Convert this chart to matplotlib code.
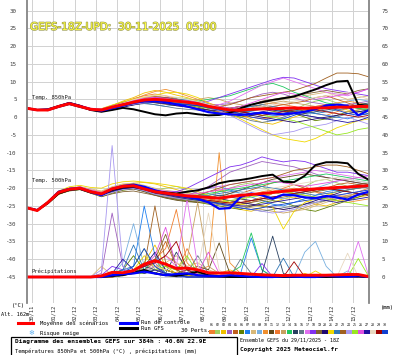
import matplotlib
matplotlib.use("Agg")
import matplotlib.pyplot as plt
import matplotlib.patheffects as pe
from matplotlib.patches import Rectangle
from matplotlib.lines import Line2D
import numpy as np

# time axis: hours after 29/11 18Z, one value every 12 h
hours = np.arange(0, 385, 12)
day_labels = ["30/11", "01/12", "02/12", "03/12", "04/12", "05/12", "06/12", "07/12",
              "08/12", "09/12", "10/12", "11/12", "12/12", "13/12", "14/12", "15/12"]
day_hours = [6 + 24 * k for k in range(len(day_labels))]

# ensemble mean, control run, GFS run
mean_850 = [2.5, 2.0, 2.0, 3.0, 3.8, 3.0, 2.2, 2.0, 2.8, 3.5, 4.2, 4.8, 5.0, 4.8, 4.5, 4.2, 3.8,
            3.0, 2.5, 2.0, 2.0, 2.2, 2.3, 2.3, 2.5, 2.6, 2.5, 2.6, 2.6, 2.8, 2.8, 3.0, 3.0]
mean_500 = [-25.5, -26.3, -24.0, -21.2, -20.3, -20.0, -21.0, -21.6, -20.2, -19.5, -19.3, -20.2,
            -21.0, -21.4, -21.8, -22.2, -22.4, -22.6, -22.8, -22.4, -22.0, -21.8, -21.5, -21.2,
            -20.9, -20.6, -20.4, -20.2, -20.0, -19.8, -19.7, -19.5, -19.3]
mean_pr = [0, 0, 0, 0, 0, 0, 0, 0.3, 1.3, 1.2, 1.8, 3.6, 4.6, 3.6, 2.4, 2.5, 2.0, 1.2, 1.1, 1.2,
           1.0, 0.8, 0.6, 0.5, 0.4, 0.5, 0.5, 0.5, 0.5, 0.6, 0.7, 0.7, 0.1]

ctrl_850 = [2.5, 2.0, 2.1, 3.0, 3.9, 3.1, 2.2, 1.8, 2.5, 3.2, 4.0, 4.5, 4.6, 4.2, 3.6, 3.0, 2.2,
            1.4, 1.0, 0.8, 0.6, 0.9, 1.2, 1.0, 0.8, 1.1, 1.5, 2.2, 3.3, 3.5, 3.2, 0.5, 2.0]
ctrl_500 = [-25.5, -26.2, -24.0, -21.0, -20.2, -20.0, -21.0, -22.0, -20.2, -19.4, -19.0, -19.6,
            -20.6, -21.5, -22.0, -22.5, -23.0, -24.0, -25.8, -25.6, -22.5, -21.5, -22.0, -23.0,
            -21.8, -22.0, -22.6, -22.8, -22.2, -22.6, -23.2, -21.8, -21.0]
ctrl_pr = [0, 0, 0, 0, 0, 0, 0, 0, 0.5, 0.8, 1.0, 1.5, 1.0, 0.5, 0.8, 1.0, 0.5, 0.3, 0.2, 0.5,
           0.3, 0.1, 0, 0, 0.2, 0.1, 0, 0, 0.3, 0.2, 0.1, 0.4, 0]

gfs_850 = [2.5, 2.0, 2.2, 3.1, 4.0, 3.2, 2.0, 1.5, 2.0, 2.6, 2.2, 1.5, 0.8, 0.5, 1.0, 1.2, 0.8,
           0.5, 0.6, 1.2, 2.5, 3.5, 4.2, 4.8, 5.3, 5.8, 6.8, 7.8, 9.0, 10.0, 10.2, 3.5, 3.2]
gfs_500 = [-25.5, -26.2, -24.2, -21.5, -20.5, -20.2, -21.2, -21.8, -20.5, -19.8, -19.5, -20.0,
           -20.8, -21.2, -21.5, -21.0, -20.6, -19.8, -18.6, -18.0, -17.7, -17.2, -16.6, -16.2,
           -18.2, -18.3, -16.5, -13.5, -12.7, -12.7, -13.0, -16.0, -17.7]
gfs_pr = [0, 0, 0, 0, 0, 0, 0, 0, 0.3, 0.5, 1.2, 2.0, 1.0, 0.5, 0.3, 0.8, 1.5, 0.5, 0.2, 0, 0,
          0, 0.1, 0.2, 0, 0, 0, 0, 0, 0.1, 0.3, 0.2, 0]

# 30 perturbed members
member_colors = ["#f08030", "#a0d060", "#f0c000", "#a060c0", "#c06020", "#608000", "#2080f0",
                 "#d8b878", "#78b0e0", "#f09030", "#604818", "#f07830", "#c8a060", "#20c860",
                 "#284060", "#607888", "#e070f0", "#8030f0", "#806030", "#200870", "#f0d800",
                 "#3078b8", "#a06020", "#a898f0", "#98e820", "#e050e0", "#2010a0", "#e8d8c0",
                 "#a00000", "#1040d0"]

t850_members = [
    [2.6, 2.1, 2.2, 3.2, 4.0, 3.1, 2.0, 1.8, 3.0, 4.0, 5.2, 6.0, 6.5, 6.0, 5.2, 4.0, 3.0, 2.5, 2.0, 1.5, 1.8, 2.5, 3.5, 4.0, 3.5, 3.0, 2.0, 1.0, 0.5, 1.5, 2.5, 3.0, 3.5],
    [2.4, 2.0, 1.9, 2.8, 3.6, 3.0, 2.4, 2.2, 2.6, 3.0, 3.6, 4.2, 4.5, 5.0, 5.5, 5.2, 4.5, 3.8, 3.0, 2.2, 1.5, 1.0, 0.5, 0.2, 1.0, 2.0, 3.5, 4.5, 5.0, 4.0, 3.0, 2.5, 2.0],
    [2.5, 2.0, 2.1, 3.0, 3.7, 2.8, 2.0, 2.2, 3.2, 4.5, 5.5, 6.8, 7.5, 7.0, 6.2, 5.5, 4.5, 3.5, 2.5, 1.5, 0.5, -0.5, -1.5, -2.0, -1.0, 0.0, 1.0, 2.0, 2.5, 3.0, 2.0, 1.5, 1.0],
    [2.5, 2.1, 2.0, 3.1, 3.9, 3.2, 2.3, 1.9, 2.4, 3.0, 3.8, 4.5, 5.0, 5.5, 5.0, 4.5, 4.0, 3.5, 3.5, 3.8, 4.5, 5.5, 6.5, 7.0, 6.5, 5.5, 4.5, 4.0, 3.5, 3.0, 3.5, 4.0, 4.5],
    [2.6, 2.0, 2.0, 2.9, 3.8, 3.0, 2.1, 2.0, 3.0, 3.8, 4.5, 5.0, 4.8, 4.2, 3.5, 3.0, 2.5, 2.0, 1.5, 1.0, 1.5, 2.0, 2.5, 3.0, 3.5, 4.0, 4.5, 5.5, 6.0, 5.0, 4.0, 3.0, 2.5],
    [2.5, 1.9, 2.0, 3.0, 3.8, 3.0, 2.2, 2.0, 2.5, 3.0, 3.5, 4.0, 4.5, 4.8, 4.2, 3.5, 2.8, 2.0, 1.2, 0.5, 0.0, 0.5, 1.0, 1.5, 2.0, 1.0, 0.0, -1.0, -0.5, 0.5, 1.5, 2.0, 2.5],
    [2.5, 2.0, 2.0, 3.0, 3.9, 3.1, 2.3, 2.1, 2.8, 3.2, 3.8, 4.0, 3.5, 3.0, 3.5, 4.0, 4.2, 3.8, 3.0, 2.5, 2.0, 1.5, 1.0, 0.5, 0.5, 1.0, 1.5, 1.0, 0.5, 0.0, -0.5, 0.5, 1.0],
    [2.4, 2.0, 2.0, 3.0, 3.8, 3.0, 2.2, 2.0, 3.0, 3.8, 4.8, 5.5, 6.0, 5.5, 5.0, 4.5, 4.0, 3.5, 3.0, 2.5, 3.0, 3.5, 4.0, 4.5, 5.0, 5.5, 6.0, 6.5, 7.0, 6.0, 5.0, 5.5, 6.0],
    [2.5, 2.0, 2.0, 3.0, 3.8, 2.9, 2.1, 1.8, 2.5, 3.2, 4.0, 4.5, 4.8, 4.5, 4.0, 3.8, 3.5, 3.0, 2.5, 2.0, 2.5, 3.0, 2.5, 2.0, 1.5, 1.0, 0.5, 1.5, 2.5, 3.5, 4.5, 5.0, 4.5],
    [2.5, 2.1, 2.1, 3.1, 3.8, 3.0, 2.2, 2.3, 3.2, 4.0, 5.0, 6.2, 7.2, 7.8, 7.0, 6.0, 5.0, 4.0, 3.0, 2.0, 1.5, 2.0, 2.5, 3.0, 2.5, 2.0, 2.5, 3.0, 3.5, 4.0, 4.5, 4.0, 3.5],
    [2.5, 2.0, 2.0, 3.0, 3.7, 3.0, 2.3, 2.1, 2.7, 3.3, 4.0, 4.6, 5.2, 5.0, 4.6, 4.2, 3.5, 2.5, 2.0, 2.5, 3.0, 3.5, 3.0, 2.5, 2.0, 1.5, 2.0, 2.5, 3.0, 3.5, 3.0, 2.5, 3.0],
    [2.6, 2.0, 2.0, 3.0, 3.8, 3.1, 2.2, 2.0, 2.9, 3.6, 4.4, 5.0, 5.5, 5.2, 4.8, 4.5, 4.0, 3.0, 2.0, 1.0, 0.5, 0.0, -0.5, 0.0, 0.5, 1.5, 2.5, 3.0, 3.5, 3.0, 2.5, 3.0, 3.5],
    [2.5, 2.0, 2.0, 3.0, 3.9, 3.1, 2.3, 2.2, 3.0, 3.6, 4.1, 4.5, 4.6, 4.3, 4.0, 4.5, 5.0, 5.5, 5.0, 4.0, 3.5, 3.0, 3.5, 4.0, 4.5, 4.0, 3.5, 3.0, 2.5, 2.0, 1.5, 2.0, 2.5],
    [2.5, 2.0, 2.1, 3.1, 3.9, 3.0, 2.1, 1.9, 2.4, 3.0, 3.8, 4.3, 4.6, 4.4, 4.2, 4.0, 4.5, 5.0, 5.5, 6.0, 7.0, 8.0, 9.0, 9.5, 8.5, 7.0, 6.0, 5.0, 4.0, 3.5, 3.0, 2.5, 2.0],
    [2.5, 2.0, 2.0, 3.0, 3.9, 3.0, 2.2, 2.0, 2.7, 3.4, 4.1, 4.6, 4.8, 4.6, 4.3, 4.0, 3.5, 2.8, 2.2, 1.8, 1.5, 1.8, 2.2, 2.5, 2.0, 1.5, 1.0, 1.5, 2.0, 2.5, 3.0, 3.5, 4.0],
    [2.5, 2.0, 2.0, 3.0, 3.8, 3.0, 2.2, 1.9, 2.5, 3.0, 3.5, 3.8, 3.5, 3.0, 2.5, 2.2, 2.0, 1.5, 1.0, 0.5, 0.0, -1.0, -1.5, -1.0, 0.0, 1.0, 0.5, 0.0, -0.5, 0.0, 1.0, 1.5, 2.0],
    [2.5, 2.0, 2.0, 3.0, 3.8, 3.0, 2.2, 2.1, 3.0, 3.8, 4.5, 5.0, 5.5, 5.0, 4.5, 4.0, 3.5, 3.0, 3.5, 4.5, 6.0, 7.5, 9.0, 10.0, 11.0, 10.0, 9.0, 8.0, 7.0, 6.5, 6.0, 7.0, 8.0],
    [2.4, 2.1, 2.0, 3.2, 4.1, 3.3, 2.4, 1.8, 2.2, 2.8, 3.6, 4.4, 5.4, 5.6, 5.0, 4.4, 4.0, 4.5, 5.5, 6.5, 7.5, 8.5, 9.5, 10.5, 11.2, 11.0, 10.0, 9.0, 8.0, 7.5, 7.0, 6.5, 6.0],
    [2.6, 2.0, 2.1, 2.9, 3.6, 2.8, 2.0, 2.3, 3.3, 4.2, 4.6, 4.4, 4.0, 3.6, 3.2, 3.0, 3.3, 3.5, 3.0, 2.5, 3.0, 3.5, 4.5, 5.0, 5.5, 6.0, 6.5, 7.0, 7.5, 7.0, 6.5, 7.5, 8.0],
    [2.5, 2.0, 1.8, 2.7, 3.5, 2.7, 1.9, 1.6, 2.2, 2.8, 3.4, 4.0, 4.2, 3.8, 3.2, 2.8, 2.4, 2.0, 1.8, 1.5, 1.0, 0.5, 0.0, -0.5, -1.0, -1.5, -1.0, -0.5, 0.0, 0.5, 1.0, 1.5, 2.0],
    [2.5, 1.9, 2.0, 3.1, 3.9, 3.1, 2.3, 2.4, 3.4, 4.3, 5.0, 5.6, 6.2, 6.8, 7.0, 6.5, 5.5, 4.0, 2.5, 1.0, -0.5, -2.0, -3.5, -5.0, -6.0, -6.5, -7.0, -6.0, -4.5, -3.0, -2.0, -1.0, -0.5],
    [2.4, 2.0, 2.1, 3.0, 3.7, 3.1, 2.4, 2.2, 2.9, 3.4, 3.9, 4.3, 4.6, 4.9, 5.1, 4.8, 4.0, 3.0, 2.5, 2.0, 2.5, 3.0, 3.5, 3.0, 2.5, 2.0, 1.5, 1.0, 1.5, 2.0, 2.5, 3.0, 3.5],
    [2.5, 2.1, 2.0, 3.0, 3.8, 3.0, 2.1, 1.9, 2.6, 3.3, 4.4, 5.2, 5.8, 5.5, 5.0, 4.5, 4.0, 3.5, 3.0, 3.5, 4.5, 5.5, 6.0, 6.5, 7.0, 7.5, 8.5, 9.5, 11.0, 12.4, 12.4, 12.2, 11.3],
    [2.5, 2.0, 2.0, 2.9, 3.7, 3.0, 2.3, 2.1, 2.7, 3.1, 3.6, 4.0, 4.3, 4.4, 4.2, 3.9, 3.4, 2.6, 1.8, 0.5, -1.0, -2.5, -4.0, -5.0, -4.5, -4.0, -3.0, -2.5, -2.0, -1.0, 0.0, -1.0, -2.0],
    [2.6, 2.1, 2.0, 3.1, 3.8, 2.9, 2.0, 1.7, 2.3, 3.0, 3.8, 4.5, 4.9, 4.6, 4.0, 3.5, 3.0, 2.5, 2.5, 2.0, 1.5, 1.0, 0.5, 0.0, -0.5, -1.0, -2.0, -3.0, -4.0, -5.0, -4.5, -3.5, -3.0],
    [2.5, 2.0, 2.0, 3.0, 3.9, 3.2, 2.5, 2.3, 3.1, 3.9, 4.7, 5.3, 5.6, 5.2, 4.8, 4.6, 4.2, 3.5, 3.0, 2.5, 3.0, 4.0, 5.0, 6.0, 7.0, 6.5, 5.5, 5.0, 5.5, 6.0, 6.5, 7.0, 8.0],
    [2.4, 2.0, 2.0, 2.9, 3.8, 3.1, 2.2, 1.9, 2.6, 3.4, 4.1, 4.3, 4.1, 3.8, 3.6, 3.5, 3.2, 2.8, 2.5, 2.0, 1.5, 1.0, 1.5, 2.0, 1.5, 1.0, 0.5, 0.0, -0.5, -1.0, -1.5, -1.0, 0.0],
    [2.5, 2.0, 2.1, 3.1, 3.9, 3.0, 2.1, 2.0, 3.0, 3.9, 4.9, 5.7, 6.2, 6.0, 5.6, 5.0, 4.4, 3.6, 2.8, 2.2, 2.0, 2.5, 3.0, 3.5, 4.0, 4.5, 5.0, 5.5, 6.0, 6.5, 7.0, 6.0, 5.0],
    [2.5, 2.0, 2.0, 3.0, 3.7, 2.9, 2.2, 2.1, 2.9, 3.7, 4.3, 4.6, 4.7, 4.5, 4.3, 4.0, 3.6, 3.0, 2.5, 2.0, 1.5, 1.0, 0.5, 1.0, 1.5, 2.0, 2.5, 2.0, 1.5, 1.0, 0.5, 0.0, 0.5],
    [2.5, 2.0, 1.9, 2.9, 3.7, 3.0, 2.3, 2.0, 2.6, 3.2, 3.9, 4.4, 4.5, 4.2, 3.9, 3.6, 3.2, 2.6, 2.0, 1.5, 1.0, 0.0, -0.5, -1.0, -0.5, 0.5, 1.5, 2.5, 3.0, 2.0, 1.0, 0.5, 1.0],
]

t500_members = [
    [-25.4, -26.2, -24.2, -21.5, -20.2, -19.6, -20.5, -21.0, -19.8, -19.0, -18.8, -19.5, -20.5, -21.5, -22.5, -23.0, -22.0, -21.0, -20.5, -21.5, -23.0, -24.0, -23.0, -21.5, -20.0, -19.0, -19.5, -21.0, -22.5, -23.5, -22.5, -21.0, -20.0],
    [-25.5, -26.3, -23.8, -21.0, -20.5, -20.3, -21.3, -22.0, -20.8, -20.0, -19.6, -20.0, -20.5, -20.0, -19.5, -20.5, -21.5, -22.0, -21.0, -20.0, -19.0, -18.5, -19.5, -21.0, -22.0, -21.0, -19.5, -18.0, -17.5, -18.5, -19.5, -20.0, -19.0],
    [-25.6, -26.4, -24.3, -21.8, -20.6, -20.0, -20.8, -21.3, -20.0, -19.2, -18.6, -18.4, -18.8, -19.6, -20.4, -21.2, -22.0, -23.0, -24.0, -25.0, -26.0, -26.5, -25.5, -24.0, -23.0, -22.5, -23.5, -24.5, -25.0, -24.0, -23.0, -22.5, -22.0],
    [-25.5, -26.2, -24.0, -21.0, -20.0, -19.8, -20.6, -21.4, -20.4, -19.6, -19.4, -20.0, -21.0, -21.8, -22.4, -22.0, -21.0, -19.5, -17.5, -15.5, -14.5, -13.5, -12.5, -13.0, -13.5, -14.0, -15.0, -16.0, -17.0, -17.5, -18.0, -18.5, -19.0],
    [-25.4, -26.1, -24.1, -21.4, -20.4, -20.2, -21.2, -22.2, -21.0, -20.0, -19.8, -20.6, -21.6, -22.2, -22.8, -23.2, -23.5, -24.0, -23.5, -22.5, -21.5, -20.5, -19.5, -18.5, -18.0, -19.0, -20.0, -21.0, -20.0, -19.0, -18.5, -19.0, -19.5],
    [-25.5, -26.3, -24.2, -21.6, -20.8, -20.4, -21.4, -22.4, -21.4, -20.6, -20.2, -20.8, -21.8, -22.6, -23.2, -23.6, -24.0, -24.5, -25.0, -25.5, -26.0, -25.0, -24.0, -23.5, -24.0, -25.0, -26.0, -26.5, -25.5, -24.5, -23.5, -22.5, -21.5],
    [-25.5, -26.2, -23.9, -21.0, -20.1, -19.8, -20.8, -21.8, -20.6, -19.8, -19.6, -20.4, -21.4, -21.8, -21.5, -21.0, -20.5, -20.0, -19.5, -20.5, -21.5, -22.5, -23.5, -24.5, -25.0, -24.0, -23.0, -22.0, -21.0, -20.5, -20.0, -19.5, -20.0],
    [-25.6, -26.4, -24.4, -21.4, -20.2, -19.6, -20.2, -20.8, -19.6, -18.8, -18.6, -19.2, -20.0, -20.6, -21.0, -21.5, -22.0, -22.5, -23.0, -23.5, -24.0, -24.5, -25.0, -25.5, -26.0, -26.5, -26.0, -25.0, -24.0, -23.0, -22.0, -21.5, -21.0],
    [-25.5, -26.3, -24.0, -21.2, -20.4, -20.0, -21.0, -21.8, -20.6, -19.6, -19.0, -19.6, -20.6, -21.4, -22.0, -22.6, -23.0, -22.5, -22.0, -21.5, -21.0, -21.5, -22.0, -22.5, -23.0, -22.0, -21.0, -20.0, -19.0, -18.0, -17.5, -18.0, -18.5],
    [-25.4, -26.2, -24.1, -21.3, -20.3, -20.1, -21.1, -21.9, -20.7, -19.9, -19.7, -20.3, -21.3, -21.7, -22.1, -22.5, -23.0, -23.5, -24.0, -24.0, -23.0, -22.0, -21.0, -20.5, -21.0, -21.5, -22.0, -22.5, -23.0, -23.5, -24.0, -23.5, -23.0],
    [-25.5, -26.3, -24.2, -21.5, -20.5, -20.2, -21.2, -22.0, -21.0, -20.4, -20.2, -21.0, -22.0, -22.8, -23.4, -23.8, -24.0, -23.5, -22.5, -21.5, -20.5, -19.5, -18.5, -17.5, -17.0, -16.5, -16.0, -16.5, -17.0, -17.5, -18.0, -18.5, -19.0],
    [-25.5, -26.2, -24.0, -21.1, -20.2, -19.9, -20.9, -21.6, -20.2, -19.3, -19.0, -19.8, -20.8, -21.2, -21.6, -22.0, -22.5, -23.0, -23.5, -24.0, -24.5, -23.5, -22.5, -21.5, -20.5, -20.0, -20.5, -21.0, -21.5, -22.0, -22.5, -22.0, -21.5],
    [-25.6, -26.4, -24.3, -21.6, -20.6, -20.3, -21.3, -22.1, -21.1, -20.3, -19.9, -20.5, -21.5, -22.0, -22.4, -22.8, -23.2, -23.6, -24.0, -24.5, -25.0, -25.5, -26.0, -26.5, -27.0, -26.5, -25.5, -24.5, -23.5, -22.5, -22.0, -21.5, -21.0],
    [-25.5, -26.3, -24.1, -21.3, -20.4, -20.1, -21.0, -21.7, -20.5, -19.7, -19.5, -20.3, -21.2, -21.6, -22.0, -22.2, -22.0, -21.5, -21.0, -20.5, -20.0, -19.5, -19.0, -18.5, -18.0, -17.5, -17.0, -16.5, -16.0, -16.5, -17.0, -17.5, -18.0],
    [-25.4, -26.1, -23.8, -20.9, -20.0, -19.7, -20.7, -21.5, -20.3, -19.5, -19.3, -20.1, -21.0, -21.6, -22.2, -22.6, -23.0, -22.5, -22.0, -22.5, -23.0, -23.5, -23.0, -22.5, -22.0, -21.5, -21.0, -20.5, -20.0, -20.5, -21.0, -21.5, -22.0],
    [-25.5, -26.2, -24.0, -21.2, -20.3, -20.0, -21.0, -21.8, -20.8, -20.2, -20.0, -20.8, -21.8, -22.4, -22.8, -23.2, -23.5, -24.0, -24.5, -25.0, -25.5, -26.0, -26.5, -26.0, -25.5, -25.0, -24.5, -24.0, -23.5, -23.0, -22.5, -22.0, -21.5],
    [-25.5, -26.3, -24.0, -21.0, -20.0, -19.6, -20.5, -21.2, -20.0, -19.2, -19.0, -19.6, -20.4, -20.8, -21.0, -21.0, -20.5, -20.0, -19.5, -19.0, -18.5, -18.0, -17.5, -17.0, -16.5, -16.0, -15.5, -15.0, -15.5, -16.0, -16.5, -17.0, -17.5],
    [-25.5, -26.2, -24.1, -21.3, -20.3, -19.9, -20.8, -21.5, -20.3, -19.5, -19.2, -19.8, -20.8, -21.2, -21.0, -20.0, -18.5, -17.0, -15.5, -14.0, -13.5, -12.5, -11.2, -12.0, -12.6, -12.2, -12.5, -13.5, -14.5, -15.5, -15.5, -16.0, -16.5],
    [-25.6, -26.4, -24.4, -21.7, -20.7, -20.4, -21.4, -22.4, -21.6, -21.0, -20.8, -21.4, -22.0, -22.6, -23.0, -23.4, -23.8, -24.2, -24.6, -25.0, -24.5, -24.0, -23.5, -23.0, -22.5, -22.0, -21.5, -21.0, -20.5, -20.0, -19.5, -19.0, -18.5],
    [-25.5, -26.2, -24.0, -21.2, -20.4, -20.1, -21.1, -21.9, -20.9, -20.1, -19.9, -20.5, -21.4, -21.8, -22.2, -22.4, -22.6, -22.8, -23.0, -23.5, -24.0, -24.5, -25.0, -25.5, -26.0, -25.5, -24.5, -23.5, -22.5, -21.5, -20.5, -20.0, -19.5],
    [-25.4, -26.1, -23.7, -20.8, -19.6, -19.2, -19.8, -20.0, -18.8, -18.2, -18.0, -18.3, -18.6, -19.0, -19.5, -20.0, -21.0, -22.0, -23.0, -24.0, -24.5, -25.0, -25.0, -25.3, -31.5, -26.5, -24.0, -23.0, -22.0, -21.0, -20.5, -20.0, -19.5],
    [-25.5, -26.3, -24.1, -21.4, -20.5, -20.2, -21.2, -22.0, -20.8, -19.8, -19.4, -19.9, -20.8, -21.2, -21.6, -22.0, -22.2, -22.0, -21.5, -21.0, -20.5, -20.0, -19.5, -20.0, -20.5, -21.0, -21.5, -22.0, -21.5, -21.0, -20.5, -20.0, -19.5],
    [-25.5, -26.2, -24.0, -21.1, -20.2, -19.8, -20.8, -21.5, -20.3, -19.4, -19.2, -19.9, -20.9, -21.5, -22.0, -22.4, -22.0, -21.0, -20.0, -19.0, -18.5, -18.0, -17.5, -17.0, -16.0, -15.0, -14.5, -14.0, -13.5, -13.5, -14.0, -15.0, -16.0],
    [-25.5, -26.3, -24.2, -21.5, -20.6, -20.3, -21.3, -22.2, -21.2, -20.4, -20.1, -20.7, -21.7, -22.3, -22.8, -23.2, -23.6, -24.0, -24.5, -25.0, -25.5, -26.0, -26.5, -27.0, -26.5, -26.0, -25.0, -24.0, -23.0, -22.0, -21.5, -21.0, -20.5],
    [-25.4, -26.1, -23.9, -21.0, -20.1, -19.8, -20.8, -21.6, -20.4, -19.6, -19.4, -20.2, -21.2, -21.8, -22.4, -23.0, -23.5, -24.0, -24.0, -23.5, -23.0, -22.5, -22.0, -21.5, -21.0, -21.5, -22.0, -22.5, -23.0, -23.5, -24.0, -24.5, -25.0],
    [-25.5, -26.2, -24.1, -21.2, -20.3, -20.0, -20.9, -21.6, -20.3, -19.4, -19.1, -19.7, -20.6, -21.0, -21.4, -21.8, -21.5, -21.0, -20.5, -20.0, -19.5, -19.0, -18.5, -18.0, -18.5, -19.0, -19.5, -19.0, -18.5, -18.0, -17.5, -17.0, -16.5],
    [-25.6, -26.3, -24.2, -21.4, -20.5, -20.2, -21.2, -21.9, -20.9, -20.1, -19.8, -20.4, -21.3, -21.9, -22.5, -23.0, -23.4, -23.8, -24.2, -24.6, -25.0, -25.0, -24.5, -24.0, -23.5, -23.0, -22.5, -23.0, -23.5, -24.0, -23.5, -23.0, -22.5],
    [-25.5, -26.2, -24.0, -21.2, -20.3, -20.0, -21.0, -21.7, -20.5, -19.7, -19.4, -20.0, -21.0, -21.4, -21.8, -22.2, -22.6, -23.0, -22.5, -22.0, -21.5, -21.0, -20.5, -20.0, -19.5, -19.0, -18.5, -18.0, -17.5, -17.0, -17.5, -18.0, -18.5],
    [-25.5, -26.3, -24.1, -21.3, -20.4, -20.1, -21.1, -21.8, -20.6, -19.8, -19.5, -20.1, -21.1, -21.7, -22.2, -22.6, -23.0, -23.4, -23.8, -24.2, -24.0, -23.5, -23.0, -22.5, -22.0, -21.5, -21.0, -20.5, -20.0, -20.5, -21.0, -21.5, -22.0],
    [-25.4, -26.2, -24.0, -21.1, -20.2, -19.9, -20.9, -21.7, -20.5, -19.6, -19.3, -19.9, -20.9, -21.5, -22.1, -22.6, -23.2, -23.8, -24.4, -25.0, -25.6, -26.0, -25.5, -25.0, -24.5, -24.0, -23.5, -23.0, -22.5, -22.0, -21.5, -21.0, -20.5],
]

pr_members = [
    [0, 0, 0, 0, 0, 0, 0, 0, 0.5, 1, 2, 3, 5, 8, 19, 4, 1, 0.5, 0, 0, 0.5, 1, 0, 0, 0, 0, 0.5, 0, 0, 0, 0, 0, 0],
    [0, 0, 0, 0, 0, 0, 0, 0.5, 1, 2, 3, 8, 2, 1, 0.5, 1, 2, 1, 0, 0, 0, 0.5, 1, 0, 0, 0, 0, 0, 0, 0.5, 0, 0, 0],
    [0, 0, 0, 0, 0, 0, 0, 0, 0, 1, 2, 4, 9, 3, 1, 0.5, 0, 0, 1, 2, 1, 0, 0, 0, 0, 0, 1, 0, 0, 0, 0, 0, 0],
    [0, 0, 0, 0, 0, 0, 0, 1, 18, 3, 1, 2, 4, 1, 0, 0, 0, 0.5, 1, 0, 0, 0, 0, 0, 0, 0, 0, 0, 0, 0, 0, 0, 0],
    [0, 0, 0, 0, 0, 0, 0, 0, 0.5, 1, 2, 3, 4, 10, 3, 1, 0.5, 0, 0, 0, 0, 0, 0.5, 0, 0, 0, 0, 0, 0, 0, 0, 0, 0],
    [0, 0, 0, 0, 0, 0, 0, 0, 1, 2, 6, 2, 1, 3, 2, 0.5, 0, 0, 0, 0, 0, 0, 0, 0, 0, 0, 0, 0, 0, 0, 0, 0, 0],
    [0, 0, 0, 0, 0, 0, 0, 0, 0.5, 2, 3, 20, 6, 2, 1, 0, 0, 0, 0, 0, 1, 11, 2, 0, 0, 0, 0, 0, 0, 0, 0, 0, 0],
    [0, 0, 0, 0, 0, 0, 0, 3, 0.5, 1, 2, 3, 2, 4, 6, 3, 4, 2, 1, 0, 0, 0, 0, 0, 0, 0, 0, 0, 0, 0, 0, 0, 0],
    [0, 0, 0, 0, 0, 0, 0, 0, 0.5, 4, 15, 3, 1, 0.5, 0, 0, 0, 0, 0, 0, 0, 0, 0, 0, 0, 0, 7, 10, 3, 0, 1.7, 0, 0],
    [0, 0, 0, 0, 0, 0, 0, 0, 0, 1, 2, 2, 4, 6, 4, 2, 2, 3, 35, 4, 1, 0, 0, 0, 0, 0, 0, 0, 0, 0, 0, 0, 0],
    [0, 0, 0, 0, 0, 0, 0, 0, 0.5, 1, 1, 2, 3, 2, 1, 2, 3, 2, 9.6, 1, 0, 0, 0, 0, 0, 0, 0, 0, 0, 0, 0, 0, 0],
    [0, 0, 0, 0, 0, 0, 0, 0, 0, 0.5, 1, 2, 3, 2, 1, 8, 2, 0.5, 0, 0, 0, 0, 0, 0, 0, 0, 0, 0, 0, 0, 0, 0, 0],
    [0, 0, 0, 0, 0, 0, 0, 0, 0.5, 1, 2, 1, 3, 4, 2, 5, 21, 3, 1, 0, 0, 0, 0, 0, 0, 0, 0, 0, 0, 0, 0, 0, 0],
    [0, 0, 0, 0, 0, 0, 0, 0, 0, 0.5, 1, 2, 5, 1, 0.5, 0, 0, 0, 0, 1, 3, 12.4, 2, 0, 0, 0, 0, 0, 0, 0, 0, 0, 0],
    [0, 0, 0, 0, 0, 0, 0, 0, 0, 1, 2, 3, 2, 1, 7, 2, 1, 0, 0, 0, 0, 0, 1, 11.5, 1, 0, 0, 0, 0, 0, 0, 0, 0],
    [0, 0, 0, 0, 0, 0, 0, 0, 0, 0.5, 1, 1, 2, 2, 1, 1, 6, 1, 0, 0, 5, 1, 0, 0, 0, 0, 0, 0, 0, 0, 0, 0, 0],
    [0, 0, 0, 0, 0, 0, 0, 0, 0.5, 1, 2, 3, 4, 6, 3, 22, 3, 1, 0, 0, 0, 0, 0, 0, 0, 0, 0, 0, 0, 0, 1, 10, 0],
    [0, 0, 0, 0, 0, 0, 0, 0.5, 3, 2, 1, 2, 3, 1, 0.5, 0, 0, 0, 0, 0, 0, 0, 3.8, 0, 0, 0, 0, 0, 0, 0, 0, 0, 0],
    [0, 0, 0, 0, 0, 0, 0, 0, 0, 0.5, 1, 3, 5, 12, 3, 1, 0.5, 0, 0, 0, 0, 0, 0, 0, 0, 0, 0, 0, 0, 0, 0, 0, 0],
    [0, 0, 0, 0, 0, 0, 0, 0, 0, 1, 2, 3, 7, 2, 1, 0.5, 0, 0, 0, 0, 0, 0, 0, 0, 0, 0, 0, 0, 0, 0, 0, 0, 0],
    [0, 0, 0, 0, 0, 0, 0, 0, 0.5, 1, 2, 6, 3, 2, 1, 0.5, 0, 0, 0, 0, 0, 0, 0, 0, 0, 0, 0, 1.7, 0, 0, 0, 0, 0],
    [0, 0, 0, 0, 0, 0, 0, 0, 1, 2, 9, 2, 1, 0.5, 1, 0, 0, 0, 0, 0, 0, 0, 0, 0, 5.3, 0, 0, 0, 0, 0, 0, 0, 0],
    [0, 0, 0, 0, 0, 0, 0, 0, 0, 1, 2, 3, 20, 4, 2, 1, 0.5, 0, 0, 0, 0, 0, 0, 0, 0, 0, 0, 0, 0, 0, 0, 0, 0],
    [0, 0, 0, 0, 0, 0, 0, 2, 37, 3, 1, 1, 2, 1, 0.5, 0, 0, 0, 0, 0, 0, 0, 0, 0, 0, 0, 0, 0, 0, 0, 0, 0, 0],
    [0, 0, 0, 0, 0, 0, 0, 0, 0, 0.5, 1, 1, 2, 3, 2, 6, 1, 0, 0, 0, 0, 0, 0, 0, 0, 0, 0, 0, 0, 0, 0, 5.2, 0],
    [0, 0, 0, 0, 0, 0, 0, 0, 0.5, 1, 2, 3, 6, 14, 3, 1, 1, 7, 1, 0, 0, 0, 0, 0, 0, 0, 0, 0, 0, 0, 0, 0, 0],
    [0, 0, 0, 0, 0, 0, 0, 0, 1, 5, 2, 1, 2, 1, 0.5, 0, 0, 0, 0, 0, 0, 0, 0, 0, 0, 0, 0, 0, 0, 0, 0, 0, 0],
    [0, 0, 0, 0, 0, 0, 0, 0, 0, 0.5, 1, 2, 3, 2, 4, 3, 2, 18, 2, 0, 0, 0, 0, 0, 0, 0, 0, 0, 0, 0, 6.7, 0, 0],
    [0, 0, 0, 0, 0, 0, 0, 0, 0, 1, 2, 3, 4, 6, 10, 2, 0.5, 0, 0, 0, 0, 0, 0, 0, 0, 4.3, 0, 0, 0, 0, 0, 0, 0],
    [0, 0, 0, 0, 0, 0, 0, 0, 0.5, 1, 3, 8, 3, 1, 0.5, 0, 0, 0, 0, 0, 0, 0, 0, 0, 0, 0, 0, 0, 0, 0, 0, 0, 0],
]

PR_BASE = -45  # precipitation (mm) is drawn on the same scale, 0 mm at -45
W, H = 395, 355
MONO = "DejaVu Sans Mono"


def px(x, y):
    return x / W, 1 - y / H


fig = plt.figure(figsize=(W / 100, H / 100), dpi=100)
ax = fig.add_axes([26.5 / W, 1 - 303 / H, 342.5 / W, 303 / H])
ax.set_xlim(0, 384)
ax.set_ylim(-52.32, 32.96)

for v in range(-45, 31, 5):
    ax.axhline(v, color="#d2d2d2", lw=0.72, zorder=0)
for h in day_hours:
    ax.axvline(h, color="#d2d2d2", lw=0.72, zorder=0)

for k in range(30):
    c = member_colors[k]
    ax.plot(hours, t850_members[k], color=c, lw=0.6, zorder=2)
    ax.plot(hours, t500_members[k], color=c, lw=0.6, zorder=2)
    ax.plot(hours, np.array(pr_members[k]) + PR_BASE, color=c, lw=0.6, zorder=2)

for series, col, lw, z in [(gfs_850, "black", 1.4, 3), (ctrl_850, "#0000ff", 1.6, 4),
                           (mean_850, "#ff0000", 2.1, 5)]:
    ax.plot(hours, series, color=col, lw=lw, zorder=z)
for series, col, lw, z in [(gfs_500, "black", 1.4, 3), (ctrl_500, "#0000ff", 1.6, 4),
                           (mean_500, "#ff0000", 2.1, 5)]:
    ax.plot(hours, series, color=col, lw=lw, zorder=z)
for series, col, lw, z in [(gfs_pr, "black", 1.4, 3), (ctrl_pr, "#0000ff", 1.6, 4),
                           (mean_pr, "#ff0000", 2.1, 5)]:
    ax.plot(hours, np.array(series) + PR_BASE, color=col, lw=lw, zorder=z)

ax.text(6, 5.5, "Temp. 850hPa", fontsize=4, family=MONO, color="#202020", va="center", zorder=6)
ax.text(6, -17.8, "Temp. 500hPa", fontsize=4, family=MONO, color="#202020", va="center", zorder=6)
ax.text(6, -43.4, "Précipitations", fontsize=4, family=MONO, color="#202020", va="center", zorder=6)

ax.set_yticks(range(-45, 31, 5))
ax.set_yticklabels([str(v) for v in range(-45, 31, 5)], family=MONO, fontsize=4.2, color="#404040")
ax.set_xticks(day_hours)
ax.set_xticklabels(day_labels, rotation=90, family=MONO, fontsize=4, color="#303030")
ax.tick_params(axis="both", length=0, pad=1)
ax.tick_params(axis="y", pad=7)

ax2 = ax.twinx()
ax2.set_ylim(-52.32 + 45, 32.96 + 45)
ax2.set_yticks(range(0, 76, 5))
ax2.set_yticklabels([str(v) for v in range(0, 76, 5)], family=MONO, fontsize=4.2, color="#404040")
ax2.tick_params(axis="y", length=0, pad=9)

for a in (ax, ax2):
    for side in ("top", "bottom"):
        a.spines[side].set_visible(False)
    a.spines["left"].set_color("#8a8a8a")
    a.spines["right"].set_color("#8a8a8a")
    a.spines["left"].set_linewidth(1.1)
    a.spines["right"].set_linewidth(1.1)

title = fig.text(*px(30, 27), "GEFS-18Z-UPD:  30-11-2025  05:00", fontsize=7.6, color="#ffff40",
                 va="center", ha="left")
title.set_path_effects([pe.Stroke(linewidth=0.9, foreground="#9a9a50"), pe.Normal()])

fig.text(*px(12, 306), "(°C)", fontsize=4, family=MONO, va="center")
fig.text(*px(1, 315), "Alt. 162m", fontsize=3.8, family=MONO, va="center")
fig.text(*px(381, 308), "(mm)", fontsize=4, family=MONO, va="center")

fig.add_artist(Line2D([18 / W, 33 / W], [1 - 323 / H] * 2, color="#ff0000", lw=2.2))
fig.text(*px(40, 323), "Moyenne des scénarios", fontsize=4, family=MONO, va="center")
fig.add_artist(Line2D([120 / W, 137 / W], [1 - 323 / H] * 2, color="#0000ff", lw=2.2))
fig.text(*px(141, 322), "Run de contrôle", fontsize=4, family=MONO, va="center")
fig.add_artist(Line2D([120 / W, 137 / W], [1 - 328 / H] * 2, color="black", lw=2.2))
fig.text(*px(141, 328), "Run GFS", fontsize=4, family=MONO, va="center")
fig.text(*px(181, 331), "30 Perts.", fontsize=4, family=MONO, va="center")
fig.text(*px(28, 333), "❄", fontsize=5, color="#60b0f0", va="center", family="DejaVu Sans")
fig.text(*px(40, 333), "Risque neige", fontsize=4, family=MONO, va="center")

for k, c in enumerate(member_colors):
    x0 = 209 + 5.97 * k
    fig.add_artist(Rectangle(px(x0, 334), 5.5 / W, 4 / H, transform=fig.transFigure,
                             facecolor=c, edgecolor="none"))
    fig.text(*px(x0 + 2.8, 325), f"{k + 1:02d}", fontsize=2.3, family=MONO, ha="center",
             va="center")

fig.add_artist(Rectangle(px(11, 357), 226 / W, 20 / H, transform=fig.transFigure,
                         facecolor="none", edgecolor="black", lw=0.9))
fig.text(*px(15, 342), "Diagramme des ensembles GEFS sur 384h : 40.6N 22.9E", fontsize=4.4,
         family=MONO, weight="bold", va="center")
fig.text(*px(15, 351.5), "Températures 850hPa et 500hPa (°C) , précipitations (mm)",
         fontsize=3.9, family=MONO, va="center")
fig.text(*px(240, 340), "Ensemble GEFS du 29/11/2025 - 18Z", fontsize=3.6, family=MONO,
         va="center")
fig.text(*px(240, 350), "Copyright 2025 Meteociel.fr", fontsize=4.3, family=MONO,
         weight="bold", va="center")

fig.savefig("out.png", dpi=100)
